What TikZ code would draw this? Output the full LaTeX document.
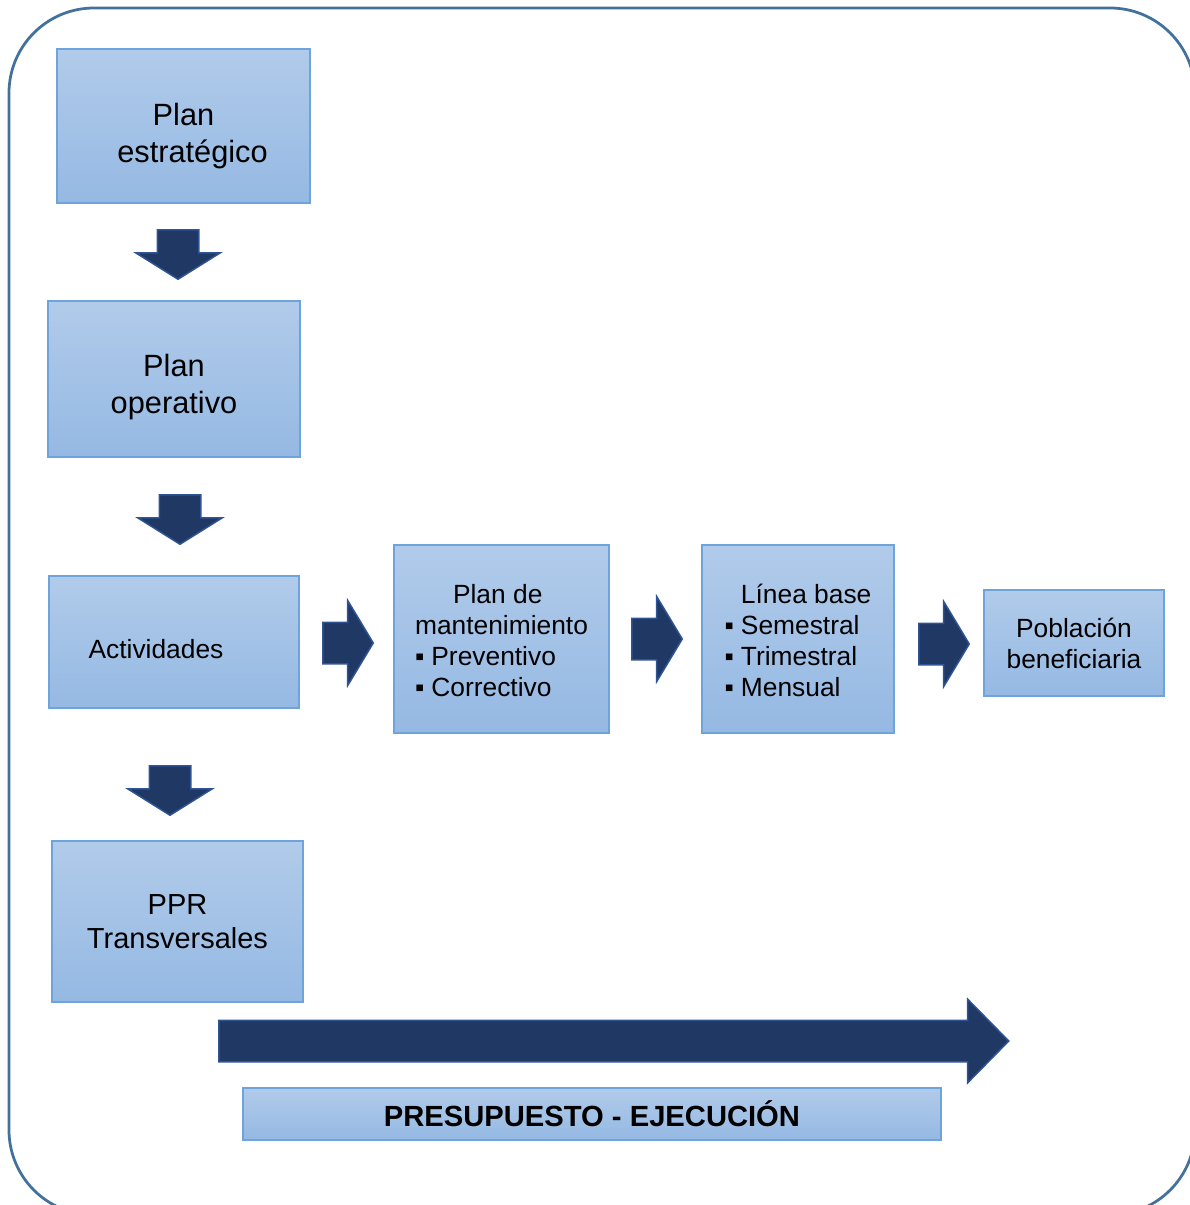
\documentclass[tikz,border=0pt]{standalone}
\usepackage{fontspec}
\setmainfont{Liberation Sans}
\usepackage{xcolor}
\usepackage{tikz}
\usetikzlibrary{shapes.arrows}

\definecolor{boxtop}{HTML}{B1CBEA}
\definecolor{boxbot}{HTML}{95B9E3}
\definecolor{boxline}{HTML}{6FA3DB}
\definecolor{arrowfill}{HTML}{203864}
\definecolor{arrowline}{HTML}{2F5496}
\definecolor{frameline}{HTML}{41719C}

\newcommand{\bigtxt}{\fontsize{17.5}{21}\selectfont}
\newcommand{\midtxt}{\fontsize{16.5}{19.4}\selectfont}
\newcommand{\smalltxt}{\fontsize{15}{17.6}\selectfont}
% lower a block of lines inside its box
\newcommand{\lowered}[2]{\raisebox{-#1}[\height][\depth]{#2}}

\begin{document}
\begin{tikzpicture}[x=0.2mm, y=-0.2mm,
    blockbox/.style={draw=boxline, line width=0.3mm, top color=boxtop, bottom color=boxbot, inner sep=0pt, align=center},
    blockarrow/.style={single arrow, draw=arrowline, fill=arrowfill, line width=0.3mm, inner xsep=0pt, inner ysep=4mm, anchor=tail}]
    \useasboundingbox (0,0) rectangle (1189,1205);
    % Frame
    \draw[frameline, line width=0.55mm, rounded corners=17mm] (9,8) rectangle (1195,1215);
    % Left column
    \node[blockbox, font=\bigtxt, minimum width=50.6mm, minimum height=30.8mm] (estrategico) at (183.5,126)
        {\lowered{2.2mm}{\begin{tabular}{@{}c@{}}Plan\\\hspace*{3.6mm}estratégico\end{tabular}}};
    \node[blockbox, font=\bigtxt, minimum width=50.4mm, minimum height=31.2mm] (operativo) at (174,379)
        {\lowered{1.8mm}{\begin{tabular}{@{}c@{}}Plan\\operativo\end{tabular}}};
    \node[blockbox, font=\smalltxt, minimum width=50mm, minimum height=26.4mm] (actividades) at (174,642)
        {\lowered{1.4mm}{Actividades}\hspace*{7.2mm}};
    \node[blockbox, font=\midtxt, minimum width=50.2mm, minimum height=32.2mm] (ppr) at (177.5,921.5) {PPR\\Transversales};
    % Row
    \node[blockbox, font=\smalltxt, minimum width=43mm, minimum height=37.6mm] (mantenimiento) at (501.5,639) {\lowered{1mm}{%
        \begin{tabular}{@{}l@{\hspace{4pt}}l@{}}
            \multicolumn{2}{@{}c@{}}{Plan de\hspace*{1.5mm}}\\
            \multicolumn{2}{@{}l@{}}{mantenimiento}\\
            ▪ & Preventivo\\
            ▪ & Correctivo
        \end{tabular}}};
    \node[blockbox, font=\smalltxt, minimum width=38.4mm, minimum height=37.6mm] (lineabase) at (798,639) {\lowered{1mm}{%
        \begin{tabular}{@{}l@{\hspace{4pt}}l@{}}
            & Línea base\\
            ▪ & Semestral\\
            ▪ & Trimestral\\
            ▪ & Mensual
        \end{tabular}}};
    \node[blockbox, font=\smalltxt, minimum width=36mm, minimum height=21.2mm] (poblacion) at (1074,643) {Población\\beneficiaria\hspace*{0pt}};
    % Budget
    \node[blockbox, font=\fontsize{16.6}{19}\selectfont\bfseries, minimum width=139.6mm, minimum height=10.4mm] (presupuesto) at (592,1114) {PRESUPUESTO - EJECUCIÓN};
    % Down arrows
    \foreach \x/\y/\n in {178/229/1, 180/494/2, 170/765/3} {
        \node[blockarrow, rotate=-90, minimum height=9.9mm, minimum width=16.8mm, single arrow head extend=4.3mm, single arrow tip angle=116] (down\n) at (\x,\y) {};
    }
    % Right arrows
    \foreach \x/\y/\n in {322/643/1, 631/639/2, 918/644/3} {
        \node[blockarrow, minimum height=10.1mm, minimum width=16.8mm, single arrow head extend=4.4mm, single arrow tip angle=118] (right\n) at (\x,\y) {};
    }
    % Execution arrow
    \node[blockarrow, minimum height=158mm, minimum width=16.4mm, single arrow head extend=4.2mm, single arrow tip angle=91] (ejecucion) at (218,1041) {};
\end{tikzpicture}
\end{document}
